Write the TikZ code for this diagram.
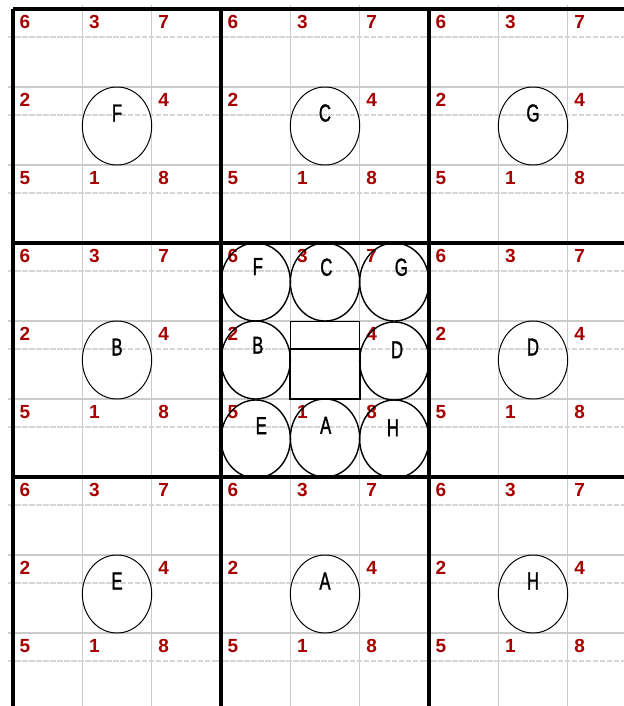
\documentclass[tikz,border=0pt]{standalone}
\usepackage{fontspec}
\setmainfont{Liberation Sans}
\newfontfamily\narrowsf[FakeStretch=0.68, FakeBold=1.2]{Liberation Sans}
\usetikzlibrary{shapes.geometric}
\definecolor{numred}{HTML}{A60000}
\definecolor{subgray}{HTML}{CBCBCB}
\definecolor{dashgray}{HTML}{D6D6D6}

% one big cell: gray sub-grid and its eight numbers
% #1 = name, #2 = left, #3 = top (pixels)
\newcommand{\bigcell}[3]{%
  \draw[subline] (#2+69.33,#3-4) -- (#2+69.33,#3+234);
  \draw[subline] (#2+138.67,#3-4) -- (#2+138.67,#3+234);
  \draw[subline] (#2-5,#3+78) -- (#2+208,#3+78);
  \draw[subline] (#2-5,#3+156) -- (#2+208,#3+156);
  \draw[dashline] (#2-5,#3+28) -- (#2+208,#3+28);
  \draw[dashline] (#2-5,#3+106) -- (#2+208,#3+106);
  \draw[dashline] (#2-5,#3+184) -- (#2+208,#3+184);
  \node[num] (#1-6) at (#2+12,#3+13) {6};
  \node[num] (#1-3) at (#2+81.3,#3+13) {3};
  \node[num] (#1-7) at (#2+150.7,#3+13) {7};
  \node[num] (#1-2) at (#2+12,#3+91) {2};
  \node[num] (#1-4) at (#2+150.7,#3+91) {4};
  \node[num] (#1-5) at (#2+12,#3+169) {5};
  \node[num] (#1-1) at (#2+81.3,#3+169) {1};
  \node[num] (#1-8) at (#2+150.7,#3+169) {8};
}

\begin{document}
\begin{tikzpicture}[
  x=0.025cm, y=-0.025cm,
  subline/.style={subgray, line width=0.8pt},
  dashline/.style={dashgray, line width=0.8pt, dash pattern=on 4pt off 1pt},
  num/.style={font=\fontsize{13.5}{14}\selectfont\bfseries, text=numred, inner sep=0pt},
  letter/.style={font=\narrowsf\fontsize{17.5}{18}\selectfont, text=black, inner sep=0pt},
  ring/.style={ellipse, draw=black, line width=0.7pt, inner sep=0pt,
    minimum width=1.733cm, minimum height=1.95cm},
  midring/.style={ring, line width=1pt},
  heavy/.style={black, line width=2.4pt},
]

% Page
\useasboundingbox (0,0) rectangle (624,706);
\clip (0,0) rectangle (624,706);
\fill[white] (0,0) rectangle (624,706);

% === Sub-grids and numbers ===
\bigcell{tl}{13}{9}
\bigcell{tm}{221}{9}
\bigcell{tr}{429}{9}
\bigcell{ml}{13}{243}
\bigcell{mm}{221}{243}
\bigcell{mr}{429}{243}
\bigcell{bl}{13}{477}
\bigcell{bm}{221}{477}
\bigcell{br}{429}{477}

% === Outer cells: one ring each ===
\node[ring] (oF) at (117,126) {};
\node[ring] (oC) at (325,126) {};
\node[ring] (oG) at (533,126) {};
\node[ring] (oB) at (117,360) {};
\node[ring] (oD) at (533,360) {};
\node[ring] (oE) at (117,594) {};
\node[ring] (oA) at (325,594) {};
\node[ring] (oH) at (533,594) {};

\node[letter] (lF) at ([yshift=9.2pt]oF.center) {F};
\node[letter] (lC) at ([yshift=9.2pt]oC.center) {C};
\node[letter] (lG) at ([yshift=9.2pt]oG.center) {G};
\node[letter] (lB) at ([yshift=9.2pt]oB.center) {B};
\node[letter] (lD) at ([yshift=9.2pt]oD.center) {D};
\node[letter] (lE) at ([yshift=9.2pt]oE.center) {E};
\node[letter] (lA) at ([yshift=9.2pt]oA.center) {A};
\node[letter] (lH) at ([yshift=9.2pt]oH.center) {H};

% === Centre cell: eight rings round the middle ===
\node[midring] (cF) at (255.7,282) {};
\node[midring] (cC) at (325,282) {};
\node[midring] (cG) at (394.3,282) {};
\node[midring] (cB) at (255.7,360) {};
\node[midring] (cD) at (394.3,361) {};
\node[midring] (cE) at (255.7,439) {};
\node[midring] (cA) at (325,438) {};
\node[midring] (cH) at (394.3,439) {};

\node[letter] (mF) at ([xshift=1.5pt,yshift=11pt]cF.center) {F};
\node[letter] (mC) at ([xshift=1pt,yshift=10.5pt]cC.center) {C};
\node[letter] (mG) at ([xshift=5pt,yshift=10.5pt]cG.center) {G};
\node[letter] (mB) at ([xshift=1.5pt,yshift=10.5pt]cB.center) {B};
\node[letter] (mD) at ([xshift=2pt,yshift=8pt]cD.center) {D};
\node[letter] (mE) at ([xshift=4pt,yshift=9.5pt]cE.center) {E};
\node[letter] (mA) at ([xshift=0.5pt,yshift=9pt]cA.center) {A};
\node[letter] (mH) at ([xshift=-1pt,yshift=8pt]cH.center) {H};

% Middle boxes
\draw[black, line width=0.7pt] (290.3,321) rectangle (359.7,349);
\draw[black, line width=1.6pt] (290.3,349) rectangle (359.7,399);

% === Heavy lines ===
\draw[heavy] (13,9) -- (13,710);
\draw[heavy] (221,9) -- (221,710);
\draw[heavy] (429,9) -- (429,710);
\draw[heavy] (13,9) -- (640,9);
\draw[heavy] (13,243) -- (640,243);
\draw[heavy] (13,477) -- (640,477);

\end{tikzpicture}
\end{document}
